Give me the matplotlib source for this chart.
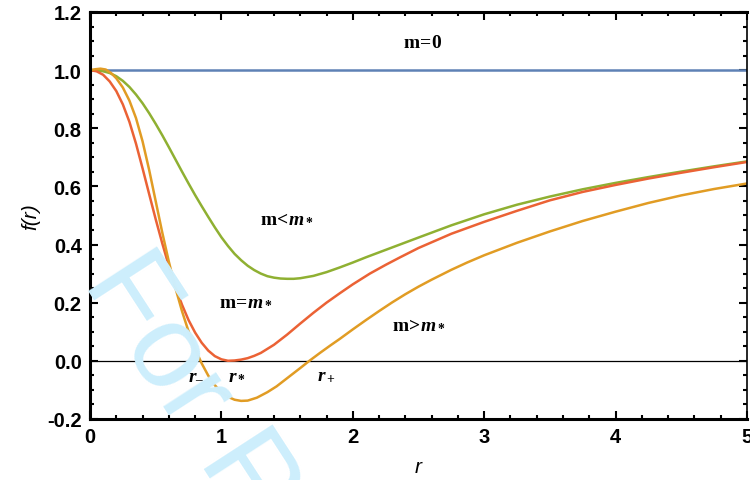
import matplotlib
matplotlib.use("Agg")
import matplotlib.pyplot as plt
from matplotlib.ticker import MultipleLocator, FormatStrFormatter

plt.rcParams['axes.unicode_minus'] = False
plt.rcParams['mathtext.fontset'] = 'custom'
plt.rcParams['mathtext.rm'] = 'Liberation Serif:bold'
plt.rcParams['mathtext.bf'] = 'Liberation Serif:bold'
plt.rcParams['mathtext.it'] = 'Liberation Serif:bold:italic'

# values
r_flat = [0, 5]
f_flat = [1.0, 1.0]

# m < m*
r_less = [0, 0.05, 0.1, 0.15, 0.2, 0.25, 0.3, 0.35, 0.4, 0.45, 0.5, 0.55, 0.6, 0.65, 0.7,
          0.75, 0.8, 0.85, 0.9, 0.95, 1.0, 1.05, 1.1, 1.15, 1.2, 1.25, 1.3, 1.35, 1.4, 1.45,
          1.5, 1.55, 1.6, 1.7, 1.8, 1.9, 2.0, 2.1, 2.2, 2.3, 2.4, 2.5, 2.75, 3.0, 3.25, 3.5,
          3.75, 4.0, 4.25, 4.5, 4.75, 5.0]
f_less = [1.0, 0.999, 0.996, 0.99, 0.979, 0.963, 0.942, 0.916, 0.886, 0.852, 0.815, 0.776,
          0.735, 0.693, 0.651, 0.61, 0.57, 0.532, 0.495, 0.459, 0.425, 0.395, 0.368, 0.346,
          0.327, 0.312, 0.3, 0.291, 0.286, 0.283, 0.282, 0.282, 0.284, 0.292, 0.305, 0.321,
          0.338, 0.356, 0.373, 0.39, 0.407, 0.424, 0.466, 0.504, 0.537, 0.565, 0.59, 0.612,
          0.632, 0.651, 0.669, 0.686]

# m = m*
r_crit = [0, 0.05, 0.1, 0.15, 0.2, 0.25, 0.3, 0.35, 0.4, 0.45, 0.5, 0.55, 0.6, 0.65, 0.7,
          0.75, 0.8, 0.85, 0.9, 0.95, 1.0, 1.05, 1.1, 1.15, 1.2, 1.25, 1.3, 1.4, 1.5, 1.6,
          1.7, 1.8, 1.9, 2.0, 2.13, 2.25, 2.36, 2.5, 2.75, 3.0, 3.25, 3.5, 3.75, 4.0, 4.25,
          4.5, 4.75, 5.0]
f_crit = [1.0, 0.996, 0.984, 0.961, 0.928, 0.882, 0.822, 0.747, 0.662, 0.574, 0.487, 0.404,
          0.326, 0.255, 0.193, 0.14, 0.097, 0.062, 0.035, 0.016, 0.005, 0.0, 0.001, 0.004,
          0.009, 0.017, 0.027, 0.055, 0.09, 0.128, 0.165, 0.2, 0.232, 0.263, 0.3, 0.33, 0.356,
          0.388, 0.437, 0.478, 0.516, 0.552, 0.581, 0.605, 0.627, 0.647, 0.666, 0.684]

# m > m*
r_more = [0, 0.04, 0.08, 0.12, 0.16, 0.2, 0.25, 0.3, 0.35, 0.4, 0.45, 0.5, 0.55, 0.6, 0.65,
          0.7, 0.75, 0.8, 0.85, 0.9, 0.95, 1.0, 1.05, 1.1, 1.15, 1.2, 1.27, 1.35, 1.42, 1.5,
          1.6, 1.67, 1.75, 1.83, 1.9, 2.0, 2.1, 2.2, 2.3, 2.4, 2.5, 2.6, 2.75, 2.87, 3.0,
          3.25, 3.5, 3.75, 4.0, 4.25, 4.5, 4.75, 5.0]
f_more = [1.0, 1.003, 1.005, 1.002, 0.99, 0.972, 0.94, 0.895, 0.835, 0.755, 0.657, 0.549,
          0.441, 0.341, 0.251, 0.171, 0.101, 0.041, -0.009, -0.051, -0.084, -0.108, -0.124,
          -0.134, -0.138, -0.137, -0.127, -0.108, -0.088, -0.06, -0.025, 0.0, 0.027, 0.053,
          0.075, 0.108, 0.14, 0.171, 0.201, 0.229, 0.255, 0.279, 0.313, 0.338, 0.363, 0.406,
          0.445, 0.481, 0.513, 0.543, 0.569, 0.591, 0.61]

fig = plt.figure(figsize=(7.5, 4.81), dpi=100)
ax = fig.add_axes([0.12, 0.127, 0.876, 0.846])

# faint watermark behind the curves
fig.text(82 / 750, 1 - 282 / 481, 'For Review Only', color='#cdeefc', fontsize=86,
         family='Liberation Sans', rotation=-57, rotation_mode='anchor',
         ha='left', va='baseline', zorder=0)
ax.set_facecolor('none')

lw = 1.8
ax.plot(r_flat, f_flat, color='#5e81b5', lw=lw)
ax.plot(r_less, f_less, color='#8fb032', lw=lw)
ax.plot(r_crit, f_crit, color='#eb6235', lw=lw)
ax.plot(r_more, f_more, color='#e19c24', lw=lw)
ax.axhline(0, color='black', lw=0.9, zorder=1)

ax.set_xlim(0, 5)
ax.set_ylim(-0.2, 1.2)
ax.xaxis.set_major_locator(MultipleLocator(1))
ax.xaxis.set_minor_locator(MultipleLocator(0.2))
ax.yaxis.set_major_locator(MultipleLocator(0.2))
ax.yaxis.set_minor_locator(MultipleLocator(0.05))
ax.yaxis.set_major_formatter(FormatStrFormatter('%.1f'))
ax.tick_params(which='both', direction='in', top=True, right=True, width=1.5)
ax.tick_params(which='major', length=6, labelsize=14.5, pad=6)
ax.tick_params(which='minor', length=3)
for lab in ax.get_xticklabels() + ax.get_yticklabels():
    lab.set_fontweight('bold')
    lab.set_family('Liberation Sans')
for side in ['left', 'bottom', 'top']:
    ax.spines[side].set_linewidth(2.2)
ax.spines['right'].set_linewidth(1.2)

ax.set_xlabel('r', fontsize=15, style='italic', family='Liberation Sans', labelpad=8)
ax.set_ylabel('f(r)', fontsize=15, style='italic', family='Liberation Sans', labelpad=5)

ax.text(2.53, 1.10, r'$\mathrm{m\!=\!0}$', fontsize=14, ha='center', va='center')
ax.text(1.50, 0.495, r'$\mathrm{m\!<\!}m_*$', fontsize=14, ha='center', va='center')
ax.text(1.19, 0.21, r'$\mathrm{m\!=\!}m_*$', fontsize=14, ha='center', va='center')
ax.text(2.50, 0.13, r'$\mathrm{m\!>\!}m_*$', fontsize=14, ha='center', va='center')
ax.text(0.81, -0.045, r'$r_{\mathrm{–}}$', fontsize=14, ha='center', va='center')
ax.text(1.12, -0.045, r'$r_*$', fontsize=14, ha='center', va='center')
ax.text(1.80, -0.045, r'$r_+$', fontsize=14, ha='center', va='center')

fig.savefig('out.png', dpi=100)
